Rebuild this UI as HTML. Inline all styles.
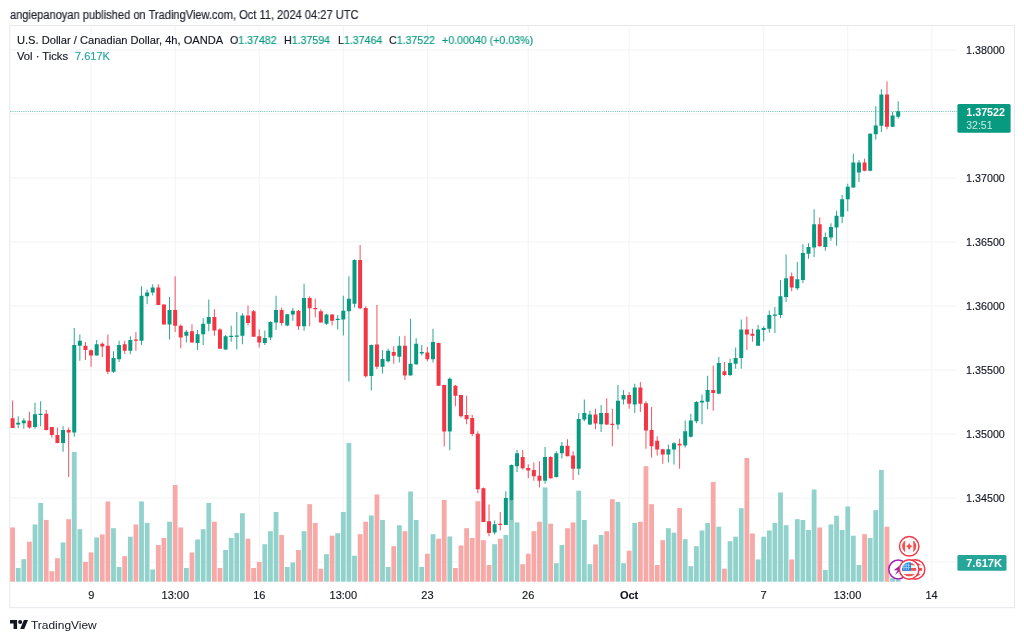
<!DOCTYPE html>
<html><head><meta charset="utf-8"><title>USDCAD chart</title>
<style>
html,body{margin:0;padding:0;background:#fff;}
body{width:1024px;height:641px;position:relative;overflow:hidden;font-family:"Liberation Sans",sans-serif;color:#131722;}
.t{position:absolute;white-space:nowrap;line-height:1;will-change:transform;}
#hdr{left:9.6px;top:8.5px;font-size:12px;color:#1f232e;-webkit-text-stroke:0.2px #1f232e;transform:scaleX(0.924);transform-origin:0 0;}
.lg{font-size:11px;color:#131722;-webkit-text-stroke:0.15px;}
.gr{color:#089981;}
.vt{color:#26a69a;}
svg{position:absolute;left:0;top:0;will-change:transform;}
svg text{font-family:"Liberation Sans",sans-serif;font-size:11px;fill:#131722;}
.ax{stroke:#131722;stroke-width:.15px;}
</style></head><body>
<div class="t" id="hdr">angiepanoyan published on TradingView.com, Oct 11, 2024 04:27 UTC</div>

<svg width="1024" height="641" viewBox="0 0 1024 641">

<rect x="9.8" y="25.6" width="1004.7" height="582.1" fill="none" stroke="#e6e8ee" stroke-width="1"/>
<g stroke="#f2f3f4" stroke-width="1">
<line x1="91.07" y1="26" x2="91.07" y2="582"/>
<line x1="175.15" y1="26" x2="175.15" y2="582"/>
<line x1="259.22" y1="26" x2="259.22" y2="582"/>
<line x1="343.30" y1="26" x2="343.30" y2="582"/>
<line x1="427.37" y1="26" x2="427.37" y2="582"/>
<line x1="528.26" y1="26" x2="528.26" y2="582"/>
<line x1="629.15" y1="26" x2="629.15" y2="582"/>
<line x1="763.67" y1="26" x2="763.67" y2="582"/>
<line x1="847.75" y1="26" x2="847.75" y2="582"/>
<line x1="931.82" y1="26" x2="931.82" y2="582"/>
<line x1="10" y1="50" x2="957" y2="50"/>
<line x1="10" y1="114" x2="957" y2="114"/>
<line x1="10" y1="178" x2="957" y2="178"/>
<line x1="10" y1="242" x2="957" y2="242"/>
<line x1="10" y1="306" x2="957" y2="306"/>
<line x1="10" y1="370" x2="957" y2="370"/>
<line x1="10" y1="434" x2="957" y2="434"/>
<line x1="10" y1="498" x2="957" y2="498"/>
<line x1="10" y1="562" x2="957" y2="562"/>
</g>
<g>
<rect x="10.20" y="527.45" width="4.8" height="54.25" fill="#f7a9a7"/>
<rect x="15.80" y="567.95" width="4.8" height="13.75" fill="#92d2cc"/>
<rect x="21.41" y="559.20" width="4.8" height="22.50" fill="#92d2cc"/>
<rect x="27.02" y="541.70" width="4.8" height="40.00" fill="#f7a9a7"/>
<rect x="32.62" y="524.45" width="4.8" height="57.25" fill="#92d2cc"/>
<rect x="38.23" y="502.95" width="4.8" height="78.75" fill="#92d2cc"/>
<rect x="43.83" y="519.95" width="4.8" height="61.75" fill="#f7a9a7"/>
<rect x="49.44" y="571.20" width="4.8" height="10.50" fill="#f7a9a7"/>
<rect x="55.04" y="558.20" width="4.8" height="23.50" fill="#f7a9a7"/>
<rect x="60.65" y="542.45" width="4.8" height="39.25" fill="#92d2cc"/>
<rect x="66.25" y="519.20" width="4.8" height="62.50" fill="#f7a9a7"/>
<rect x="71.85" y="451.95" width="4.8" height="129.75" fill="#92d2cc"/>
<rect x="77.46" y="529.20" width="4.8" height="52.50" fill="#92d2cc"/>
<rect x="83.06" y="561.95" width="4.8" height="19.75" fill="#f7a9a7"/>
<rect x="88.67" y="552.45" width="4.8" height="29.25" fill="#f7a9a7"/>
<rect x="94.27" y="537.45" width="4.8" height="44.25" fill="#92d2cc"/>
<rect x="99.88" y="534.45" width="4.8" height="47.25" fill="#f7a9a7"/>
<rect x="105.48" y="501.45" width="4.8" height="80.25" fill="#f7a9a7"/>
<rect x="111.09" y="528.20" width="4.8" height="53.50" fill="#92d2cc"/>
<rect x="116.69" y="566.95" width="4.8" height="14.75" fill="#92d2cc"/>
<rect x="122.30" y="556.20" width="4.8" height="25.50" fill="#f7a9a7"/>
<rect x="127.91" y="536.70" width="4.8" height="45.00" fill="#92d2cc"/>
<rect x="133.51" y="524.45" width="4.8" height="57.25" fill="#f7a9a7"/>
<rect x="139.12" y="501.45" width="4.8" height="80.25" fill="#92d2cc"/>
<rect x="144.72" y="522.95" width="4.8" height="58.75" fill="#92d2cc"/>
<rect x="150.32" y="569.45" width="4.8" height="12.25" fill="#92d2cc"/>
<rect x="155.93" y="544.95" width="4.8" height="36.75" fill="#f7a9a7"/>
<rect x="161.53" y="537.95" width="4.8" height="43.75" fill="#f7a9a7"/>
<rect x="167.14" y="521.70" width="4.8" height="60.00" fill="#92d2cc"/>
<rect x="172.75" y="484.95" width="4.8" height="96.75" fill="#f7a9a7"/>
<rect x="178.35" y="527.45" width="4.8" height="54.25" fill="#f7a9a7"/>
<rect x="183.96" y="567.95" width="4.8" height="13.75" fill="#92d2cc"/>
<rect x="189.56" y="552.45" width="4.8" height="29.25" fill="#f7a9a7"/>
<rect x="195.16" y="539.45" width="4.8" height="42.25" fill="#92d2cc"/>
<rect x="200.77" y="529.20" width="4.8" height="52.50" fill="#92d2cc"/>
<rect x="206.38" y="502.95" width="4.8" height="78.75" fill="#92d2cc"/>
<rect x="211.98" y="521.70" width="4.8" height="60.00" fill="#f7a9a7"/>
<rect x="217.59" y="567.95" width="4.8" height="13.75" fill="#f7a9a7"/>
<rect x="223.19" y="549.95" width="4.8" height="31.75" fill="#92d2cc"/>
<rect x="228.80" y="537.95" width="4.8" height="43.75" fill="#92d2cc"/>
<rect x="234.40" y="532.95" width="4.8" height="48.75" fill="#92d2cc"/>
<rect x="240.00" y="513.20" width="4.8" height="68.50" fill="#92d2cc"/>
<rect x="245.61" y="538.70" width="4.8" height="43.00" fill="#f7a9a7"/>
<rect x="251.22" y="567.95" width="4.8" height="13.75" fill="#f7a9a7"/>
<rect x="256.82" y="561.95" width="4.8" height="19.75" fill="#f7a9a7"/>
<rect x="262.43" y="544.20" width="4.8" height="37.50" fill="#92d2cc"/>
<rect x="268.03" y="531.20" width="4.8" height="50.50" fill="#92d2cc"/>
<rect x="273.64" y="511.95" width="4.8" height="69.75" fill="#92d2cc"/>
<rect x="279.24" y="534.95" width="4.8" height="46.75" fill="#f7a9a7"/>
<rect x="284.85" y="566.95" width="4.8" height="14.75" fill="#92d2cc"/>
<rect x="290.45" y="562.45" width="4.8" height="19.25" fill="#92d2cc"/>
<rect x="296.06" y="549.95" width="4.8" height="31.75" fill="#f7a9a7"/>
<rect x="301.66" y="531.20" width="4.8" height="50.50" fill="#92d2cc"/>
<rect x="307.27" y="504.20" width="4.8" height="77.50" fill="#f7a9a7"/>
<rect x="312.87" y="522.95" width="4.8" height="58.75" fill="#f7a9a7"/>
<rect x="318.48" y="568.70" width="4.8" height="13.00" fill="#f7a9a7"/>
<rect x="324.08" y="554.20" width="4.8" height="27.50" fill="#92d2cc"/>
<rect x="329.69" y="535.70" width="4.8" height="46.00" fill="#f7a9a7"/>
<rect x="335.29" y="533.20" width="4.8" height="48.50" fill="#92d2cc"/>
<rect x="340.90" y="511.95" width="4.8" height="69.75" fill="#92d2cc"/>
<rect x="346.50" y="442.95" width="4.8" height="138.75" fill="#92d2cc"/>
<rect x="352.11" y="555.70" width="4.8" height="26.00" fill="#92d2cc"/>
<rect x="357.71" y="534.20" width="4.8" height="47.50" fill="#f7a9a7"/>
<rect x="363.32" y="521.70" width="4.8" height="60.00" fill="#f7a9a7"/>
<rect x="368.92" y="515.45" width="4.8" height="66.25" fill="#92d2cc"/>
<rect x="374.53" y="494.45" width="4.8" height="87.25" fill="#f7a9a7"/>
<rect x="380.13" y="519.95" width="4.8" height="61.75" fill="#92d2cc"/>
<rect x="385.74" y="566.95" width="4.8" height="14.75" fill="#92d2cc"/>
<rect x="391.34" y="546.20" width="4.8" height="35.50" fill="#f7a9a7"/>
<rect x="396.95" y="525.20" width="4.8" height="56.50" fill="#92d2cc"/>
<rect x="402.55" y="531.20" width="4.8" height="50.50" fill="#f7a9a7"/>
<rect x="408.16" y="491.45" width="4.8" height="90.25" fill="#92d2cc"/>
<rect x="413.76" y="519.95" width="4.8" height="61.75" fill="#92d2cc"/>
<rect x="419.37" y="566.95" width="4.8" height="14.75" fill="#92d2cc"/>
<rect x="424.97" y="553.70" width="4.8" height="28.00" fill="#f7a9a7"/>
<rect x="430.58" y="534.20" width="4.8" height="47.50" fill="#92d2cc"/>
<rect x="436.18" y="538.70" width="4.8" height="43.00" fill="#f7a9a7"/>
<rect x="441.79" y="499.95" width="4.8" height="81.75" fill="#f7a9a7"/>
<rect x="447.39" y="536.45" width="4.8" height="45.25" fill="#92d2cc"/>
<rect x="453.00" y="567.95" width="4.8" height="13.75" fill="#f7a9a7"/>
<rect x="458.60" y="545.45" width="4.8" height="36.25" fill="#f7a9a7"/>
<rect x="464.21" y="528.20" width="4.8" height="53.50" fill="#f7a9a7"/>
<rect x="469.81" y="537.95" width="4.8" height="43.75" fill="#f7a9a7"/>
<rect x="475.42" y="501.20" width="4.8" height="80.50" fill="#f7a9a7"/>
<rect x="481.02" y="540.20" width="4.8" height="41.50" fill="#f7a9a7"/>
<rect x="486.63" y="564.95" width="4.8" height="16.75" fill="#f7a9a7"/>
<rect x="492.23" y="544.20" width="4.8" height="37.50" fill="#92d2cc"/>
<rect x="497.84" y="538.70" width="4.8" height="43.00" fill="#f7a9a7"/>
<rect x="503.44" y="534.95" width="4.8" height="46.75" fill="#92d2cc"/>
<rect x="509.05" y="499.95" width="4.8" height="81.75" fill="#92d2cc"/>
<rect x="514.65" y="522.45" width="4.8" height="59.25" fill="#92d2cc"/>
<rect x="520.26" y="564.20" width="4.8" height="17.50" fill="#f7a9a7"/>
<rect x="525.86" y="553.70" width="4.8" height="28.00" fill="#f7a9a7"/>
<rect x="531.47" y="531.20" width="4.8" height="50.50" fill="#f7a9a7"/>
<rect x="537.07" y="521.70" width="4.8" height="60.00" fill="#f7a9a7"/>
<rect x="542.68" y="487.45" width="4.8" height="94.25" fill="#92d2cc"/>
<rect x="548.28" y="523.70" width="4.8" height="58.00" fill="#f7a9a7"/>
<rect x="553.89" y="563.20" width="4.8" height="18.50" fill="#92d2cc"/>
<rect x="559.49" y="544.95" width="4.8" height="36.75" fill="#92d2cc"/>
<rect x="565.10" y="528.20" width="4.8" height="53.50" fill="#f7a9a7"/>
<rect x="570.70" y="522.45" width="4.8" height="59.25" fill="#f7a9a7"/>
<rect x="576.31" y="490.70" width="4.8" height="91.00" fill="#92d2cc"/>
<rect x="581.91" y="519.95" width="4.8" height="61.75" fill="#92d2cc"/>
<rect x="587.52" y="564.20" width="4.8" height="17.50" fill="#92d2cc"/>
<rect x="593.12" y="544.45" width="4.8" height="37.25" fill="#f7a9a7"/>
<rect x="598.73" y="534.95" width="4.8" height="46.75" fill="#92d2cc"/>
<rect x="604.33" y="531.20" width="4.8" height="50.50" fill="#f7a9a7"/>
<rect x="609.94" y="499.20" width="4.8" height="82.50" fill="#f7a9a7"/>
<rect x="615.54" y="501.95" width="4.8" height="79.75" fill="#92d2cc"/>
<rect x="621.15" y="563.20" width="4.8" height="18.50" fill="#92d2cc"/>
<rect x="626.75" y="550.70" width="4.8" height="31.00" fill="#f7a9a7"/>
<rect x="632.36" y="522.95" width="4.8" height="58.75" fill="#92d2cc"/>
<rect x="637.96" y="521.70" width="4.8" height="60.00" fill="#f7a9a7"/>
<rect x="643.57" y="466.20" width="4.8" height="115.50" fill="#f7a9a7"/>
<rect x="649.17" y="504.20" width="4.8" height="77.50" fill="#f7a9a7"/>
<rect x="654.78" y="564.95" width="4.8" height="16.75" fill="#f7a9a7"/>
<rect x="660.38" y="540.20" width="4.8" height="41.50" fill="#f7a9a7"/>
<rect x="665.99" y="528.20" width="4.8" height="53.50" fill="#92d2cc"/>
<rect x="671.59" y="532.70" width="4.8" height="49.00" fill="#92d2cc"/>
<rect x="677.20" y="507.95" width="4.8" height="73.75" fill="#f7a9a7"/>
<rect x="682.80" y="539.20" width="4.8" height="42.50" fill="#92d2cc"/>
<rect x="688.41" y="566.20" width="4.8" height="15.50" fill="#92d2cc"/>
<rect x="694.01" y="546.20" width="4.8" height="35.50" fill="#92d2cc"/>
<rect x="699.62" y="530.45" width="4.8" height="51.25" fill="#92d2cc"/>
<rect x="705.22" y="522.95" width="4.8" height="58.75" fill="#92d2cc"/>
<rect x="710.83" y="481.95" width="4.8" height="99.75" fill="#f7a9a7"/>
<rect x="716.43" y="526.70" width="4.8" height="55.00" fill="#92d2cc"/>
<rect x="722.04" y="568.70" width="4.8" height="13.00" fill="#f7a9a7"/>
<rect x="727.64" y="541.20" width="4.8" height="40.50" fill="#92d2cc"/>
<rect x="733.25" y="536.70" width="4.8" height="45.00" fill="#92d2cc"/>
<rect x="738.85" y="508.20" width="4.8" height="73.50" fill="#92d2cc"/>
<rect x="744.46" y="457.95" width="4.8" height="123.75" fill="#f7a9a7"/>
<rect x="750.06" y="533.45" width="4.8" height="48.25" fill="#f7a9a7"/>
<rect x="755.67" y="559.45" width="4.8" height="22.25" fill="#92d2cc"/>
<rect x="761.27" y="536.70" width="4.8" height="45.00" fill="#92d2cc"/>
<rect x="766.88" y="530.45" width="4.8" height="51.25" fill="#92d2cc"/>
<rect x="772.48" y="522.95" width="4.8" height="58.75" fill="#92d2cc"/>
<rect x="778.09" y="492.45" width="4.8" height="89.25" fill="#92d2cc"/>
<rect x="783.69" y="525.20" width="4.8" height="56.50" fill="#92d2cc"/>
<rect x="789.30" y="559.45" width="4.8" height="22.25" fill="#f7a9a7"/>
<rect x="794.90" y="519.20" width="4.8" height="62.50" fill="#92d2cc"/>
<rect x="800.51" y="519.95" width="4.8" height="61.75" fill="#92d2cc"/>
<rect x="806.11" y="529.95" width="4.8" height="51.75" fill="#92d2cc"/>
<rect x="811.72" y="489.45" width="4.8" height="92.25" fill="#92d2cc"/>
<rect x="817.32" y="527.45" width="4.8" height="54.25" fill="#f7a9a7"/>
<rect x="822.93" y="569.95" width="4.8" height="11.75" fill="#92d2cc"/>
<rect x="828.53" y="524.45" width="4.8" height="57.25" fill="#92d2cc"/>
<rect x="834.14" y="515.70" width="4.8" height="66.00" fill="#92d2cc"/>
<rect x="839.74" y="529.95" width="4.8" height="51.75" fill="#92d2cc"/>
<rect x="845.35" y="506.45" width="4.8" height="75.25" fill="#92d2cc"/>
<rect x="850.95" y="535.70" width="4.8" height="46.00" fill="#92d2cc"/>
<rect x="856.56" y="564.95" width="4.8" height="16.75" fill="#92d2cc"/>
<rect x="862.16" y="534.20" width="4.8" height="47.50" fill="#f7a9a7"/>
<rect x="867.77" y="537.95" width="4.8" height="43.75" fill="#92d2cc"/>
<rect x="873.37" y="510.20" width="4.8" height="71.50" fill="#92d2cc"/>
<rect x="878.98" y="469.95" width="4.8" height="111.75" fill="#92d2cc"/>
<rect x="884.58" y="526.70" width="4.8" height="55.00" fill="#f7a9a7"/>
<rect x="890.19" y="578.20" width="4.8" height="3.50" fill="#92d2cc"/>
<rect x="895.79" y="579.45" width="4.8" height="2.25" fill="#92d2cc"/>
</g>
<g>
<rect x="12.10" y="400.50" width="1" height="27.50" fill="#f23645" opacity="0.85"/>
<rect x="10.60" y="418.25" width="4.0" height="9.75" fill="#f23645"/>
<rect x="17.70" y="416.25" width="1" height="11.75" fill="#089981" opacity="0.85"/>
<rect x="16.20" y="422.75" width="4.0" height="1.75" fill="#089981"/>
<rect x="23.31" y="418.25" width="1" height="10.50" fill="#089981" opacity="0.85"/>
<rect x="21.81" y="420.50" width="4.0" height="2.75" fill="#089981"/>
<rect x="28.91" y="411.75" width="1" height="17.00" fill="#f23645" opacity="0.85"/>
<rect x="27.41" y="420.75" width="4.0" height="6.75" fill="#f23645"/>
<rect x="34.52" y="402.50" width="1" height="26.25" fill="#089981" opacity="0.85"/>
<rect x="33.02" y="414.25" width="4.0" height="12.75" fill="#089981"/>
<rect x="40.12" y="401.25" width="1" height="25.00" fill="#089981" opacity="0.85"/>
<rect x="38.62" y="413.75" width="4.0" height="1.25" fill="#089981"/>
<rect x="45.73" y="410.00" width="1" height="20.50" fill="#f23645" opacity="0.85"/>
<rect x="44.23" y="413.75" width="4.0" height="16.25" fill="#f23645"/>
<rect x="51.34" y="427.00" width="1" height="10.50" fill="#f23645" opacity="0.85"/>
<rect x="49.84" y="427.00" width="4.0" height="8.00" fill="#f23645"/>
<rect x="56.94" y="427.50" width="1" height="15.75" fill="#f23645" opacity="0.85"/>
<rect x="55.44" y="435.00" width="4.0" height="8.00" fill="#f23645"/>
<rect x="62.55" y="426.25" width="1" height="25.50" fill="#089981" opacity="0.85"/>
<rect x="61.05" y="430.00" width="4.0" height="13.00" fill="#089981"/>
<rect x="68.15" y="427.50" width="1" height="49.50" fill="#f23645" opacity="0.85"/>
<rect x="66.65" y="430.00" width="4.0" height="2.50" fill="#f23645"/>
<rect x="73.75" y="328.00" width="1" height="108.75" fill="#089981" opacity="0.85"/>
<rect x="72.25" y="345.00" width="4.0" height="87.50" fill="#089981"/>
<rect x="79.36" y="334.50" width="1" height="26.25" fill="#089981" opacity="0.85"/>
<rect x="77.86" y="340.75" width="4.0" height="5.00" fill="#089981"/>
<rect x="84.97" y="342.00" width="1" height="18.00" fill="#f23645" opacity="0.85"/>
<rect x="83.47" y="345.75" width="4.0" height="4.25" fill="#f23645"/>
<rect x="90.57" y="349.50" width="1" height="17.25" fill="#f23645" opacity="0.85"/>
<rect x="89.07" y="350.25" width="4.0" height="5.25" fill="#f23645"/>
<rect x="96.17" y="340.00" width="1" height="15.50" fill="#089981" opacity="0.85"/>
<rect x="94.67" y="344.25" width="4.0" height="11.25" fill="#089981"/>
<rect x="101.78" y="342.50" width="1" height="14.50" fill="#f23645" opacity="0.85"/>
<rect x="100.28" y="343.75" width="4.0" height="2.75" fill="#f23645"/>
<rect x="107.39" y="334.50" width="1" height="39.75" fill="#f23645" opacity="0.85"/>
<rect x="105.89" y="345.75" width="4.0" height="26.00" fill="#f23645"/>
<rect x="112.99" y="351.25" width="1" height="21.50" fill="#089981" opacity="0.85"/>
<rect x="111.49" y="358.00" width="4.0" height="13.75" fill="#089981"/>
<rect x="118.59" y="340.75" width="1" height="21.25" fill="#089981" opacity="0.85"/>
<rect x="117.09" y="345.00" width="4.0" height="14.25" fill="#089981"/>
<rect x="124.20" y="340.75" width="1" height="13.00" fill="#f23645" opacity="0.85"/>
<rect x="122.70" y="344.25" width="4.0" height="6.50" fill="#f23645"/>
<rect x="129.81" y="336.25" width="1" height="18.00" fill="#089981" opacity="0.85"/>
<rect x="128.31" y="340.00" width="4.0" height="10.75" fill="#089981"/>
<rect x="135.41" y="332.00" width="1" height="18.75" fill="#f23645" opacity="0.85"/>
<rect x="133.91" y="339.50" width="4.0" height="1.25" fill="#f23645"/>
<rect x="141.02" y="286.25" width="1" height="58.75" fill="#089981" opacity="0.85"/>
<rect x="139.52" y="295.75" width="4.0" height="45.00" fill="#089981"/>
<rect x="146.62" y="289.50" width="1" height="14.75" fill="#089981" opacity="0.85"/>
<rect x="145.12" y="292.50" width="4.0" height="3.75" fill="#089981"/>
<rect x="152.22" y="284.25" width="1" height="11.25" fill="#089981" opacity="0.85"/>
<rect x="150.72" y="287.50" width="4.0" height="5.00" fill="#089981"/>
<rect x="157.83" y="284.25" width="1" height="20.75" fill="#f23645" opacity="0.85"/>
<rect x="156.33" y="287.50" width="4.0" height="17.50" fill="#f23645"/>
<rect x="163.44" y="304.50" width="1" height="20.00" fill="#f23645" opacity="0.85"/>
<rect x="161.94" y="304.50" width="4.0" height="20.00" fill="#f23645"/>
<rect x="169.04" y="297.00" width="1" height="42.50" fill="#089981" opacity="0.85"/>
<rect x="167.54" y="310.00" width="4.0" height="14.50" fill="#089981"/>
<rect x="174.65" y="276.25" width="1" height="55.75" fill="#f23645" opacity="0.85"/>
<rect x="173.15" y="310.00" width="4.0" height="15.75" fill="#f23645"/>
<rect x="180.25" y="324.50" width="1" height="23.75" fill="#f23645" opacity="0.85"/>
<rect x="178.75" y="325.75" width="4.0" height="11.75" fill="#f23645"/>
<rect x="185.86" y="330.00" width="1" height="12.50" fill="#089981" opacity="0.85"/>
<rect x="184.36" y="331.75" width="4.0" height="4.00" fill="#089981"/>
<rect x="191.46" y="324.25" width="1" height="18.25" fill="#f23645" opacity="0.85"/>
<rect x="189.96" y="331.25" width="4.0" height="11.25" fill="#f23645"/>
<rect x="197.06" y="330.00" width="1" height="20.00" fill="#089981" opacity="0.85"/>
<rect x="195.56" y="334.25" width="4.0" height="8.75" fill="#089981"/>
<rect x="202.67" y="318.25" width="1" height="26.75" fill="#089981" opacity="0.85"/>
<rect x="201.17" y="323.75" width="4.0" height="10.50" fill="#089981"/>
<rect x="208.28" y="299.50" width="1" height="31.75" fill="#089981" opacity="0.85"/>
<rect x="206.78" y="317.00" width="4.0" height="6.75" fill="#089981"/>
<rect x="213.88" y="309.25" width="1" height="26.50" fill="#f23645" opacity="0.85"/>
<rect x="212.38" y="317.00" width="4.0" height="13.50" fill="#f23645"/>
<rect x="219.49" y="328.25" width="1" height="20.50" fill="#f23645" opacity="0.85"/>
<rect x="217.99" y="329.50" width="4.0" height="19.25" fill="#f23645"/>
<rect x="225.09" y="335.00" width="1" height="15.00" fill="#089981" opacity="0.85"/>
<rect x="223.59" y="336.25" width="4.0" height="13.25" fill="#089981"/>
<rect x="230.70" y="325.75" width="1" height="16.00" fill="#089981" opacity="0.85"/>
<rect x="229.20" y="335.75" width="4.0" height="1.25" fill="#089981"/>
<rect x="236.30" y="312.00" width="1" height="37.50" fill="#089981" opacity="0.85"/>
<rect x="234.80" y="335.50" width="4.0" height="1.25" fill="#089981"/>
<rect x="241.91" y="313.25" width="1" height="31.00" fill="#089981" opacity="0.85"/>
<rect x="240.41" y="315.50" width="4.0" height="20.25" fill="#089981"/>
<rect x="247.51" y="305.50" width="1" height="20.00" fill="#f23645" opacity="0.85"/>
<rect x="246.01" y="315.50" width="4.0" height="7.50" fill="#f23645"/>
<rect x="253.12" y="310.00" width="1" height="26.75" fill="#f23645" opacity="0.85"/>
<rect x="251.62" y="311.25" width="4.0" height="25.50" fill="#f23645"/>
<rect x="258.72" y="329.25" width="1" height="18.25" fill="#f23645" opacity="0.85"/>
<rect x="257.22" y="336.25" width="4.0" height="6.25" fill="#f23645"/>
<rect x="264.33" y="330.50" width="1" height="14.50" fill="#089981" opacity="0.85"/>
<rect x="262.83" y="338.00" width="4.0" height="5.00" fill="#089981"/>
<rect x="269.93" y="321.25" width="1" height="18.75" fill="#089981" opacity="0.85"/>
<rect x="268.43" y="322.00" width="4.0" height="15.50" fill="#089981"/>
<rect x="275.54" y="295.75" width="1" height="34.25" fill="#089981" opacity="0.85"/>
<rect x="274.04" y="310.00" width="4.0" height="12.50" fill="#089981"/>
<rect x="281.14" y="307.50" width="1" height="18.00" fill="#f23645" opacity="0.85"/>
<rect x="279.64" y="310.00" width="4.0" height="13.00" fill="#f23645"/>
<rect x="286.75" y="313.75" width="1" height="12.50" fill="#089981" opacity="0.85"/>
<rect x="285.25" y="314.25" width="4.0" height="11.25" fill="#089981"/>
<rect x="292.35" y="308.00" width="1" height="12.75" fill="#089981" opacity="0.85"/>
<rect x="290.85" y="310.75" width="4.0" height="3.75" fill="#089981"/>
<rect x="297.96" y="310.00" width="1" height="20.00" fill="#f23645" opacity="0.85"/>
<rect x="296.46" y="310.75" width="4.0" height="15.50" fill="#f23645"/>
<rect x="303.56" y="283.75" width="1" height="47.00" fill="#089981" opacity="0.85"/>
<rect x="302.06" y="298.00" width="4.0" height="28.25" fill="#089981"/>
<rect x="309.17" y="296.25" width="1" height="30.00" fill="#f23645" opacity="0.85"/>
<rect x="307.67" y="298.00" width="4.0" height="10.25" fill="#f23645"/>
<rect x="314.77" y="298.75" width="1" height="18.75" fill="#f23645" opacity="0.85"/>
<rect x="313.27" y="308.00" width="4.0" height="1.20" fill="#f23645"/>
<rect x="320.38" y="309.25" width="1" height="13.25" fill="#f23645" opacity="0.85"/>
<rect x="318.88" y="311.25" width="4.0" height="11.25" fill="#f23645"/>
<rect x="325.98" y="313.75" width="1" height="11.25" fill="#089981" opacity="0.85"/>
<rect x="324.48" y="314.50" width="4.0" height="9.25" fill="#089981"/>
<rect x="331.59" y="314.25" width="1" height="11.25" fill="#f23645" opacity="0.85"/>
<rect x="330.09" y="314.50" width="4.0" height="6.25" fill="#f23645"/>
<rect x="337.19" y="315.00" width="1" height="14.50" fill="#089981" opacity="0.85"/>
<rect x="335.69" y="318.75" width="4.0" height="1.25" fill="#089981"/>
<rect x="342.80" y="295.75" width="1" height="39.75" fill="#089981" opacity="0.85"/>
<rect x="341.30" y="310.75" width="4.0" height="8.75" fill="#089981"/>
<rect x="348.40" y="276.25" width="1" height="105.25" fill="#089981" opacity="0.85"/>
<rect x="346.90" y="298.75" width="4.0" height="12.50" fill="#089981"/>
<rect x="354.01" y="259.25" width="1" height="48.25" fill="#089981" opacity="0.85"/>
<rect x="352.51" y="260.00" width="4.0" height="43.75" fill="#089981"/>
<rect x="359.61" y="245.00" width="1" height="64.25" fill="#f23645" opacity="0.85"/>
<rect x="358.11" y="260.00" width="4.0" height="48.25" fill="#f23645"/>
<rect x="365.22" y="306.25" width="1" height="71.25" fill="#f23645" opacity="0.85"/>
<rect x="363.72" y="308.00" width="4.0" height="68.25" fill="#f23645"/>
<rect x="370.82" y="344.50" width="1" height="46.00" fill="#089981" opacity="0.85"/>
<rect x="369.32" y="345.00" width="4.0" height="31.00" fill="#089981"/>
<rect x="376.43" y="305.00" width="1" height="64.00" fill="#f23645" opacity="0.85"/>
<rect x="374.93" y="344.50" width="4.0" height="22.25" fill="#f23645"/>
<rect x="382.03" y="350.00" width="1" height="23.50" fill="#089981" opacity="0.85"/>
<rect x="380.53" y="359.00" width="4.0" height="7.75" fill="#089981"/>
<rect x="387.64" y="348.75" width="1" height="13.75" fill="#089981" opacity="0.85"/>
<rect x="386.14" y="350.75" width="4.0" height="10.50" fill="#089981"/>
<rect x="393.24" y="346.25" width="1" height="17.50" fill="#f23645" opacity="0.85"/>
<rect x="391.74" y="352.00" width="4.0" height="3.75" fill="#f23645"/>
<rect x="398.85" y="336.25" width="1" height="26.25" fill="#089981" opacity="0.85"/>
<rect x="397.35" y="345.75" width="4.0" height="11.00" fill="#089981"/>
<rect x="404.45" y="335.75" width="1" height="44.25" fill="#f23645" opacity="0.85"/>
<rect x="402.95" y="345.75" width="4.0" height="29.75" fill="#f23645"/>
<rect x="410.06" y="318.75" width="1" height="56.75" fill="#089981" opacity="0.85"/>
<rect x="408.56" y="363.75" width="4.0" height="11.75" fill="#089981"/>
<rect x="415.66" y="338.25" width="1" height="26.75" fill="#089981" opacity="0.85"/>
<rect x="414.16" y="343.75" width="4.0" height="20.50" fill="#089981"/>
<rect x="421.27" y="345.00" width="1" height="10.50" fill="#089981" opacity="0.85"/>
<rect x="419.77" y="352.00" width="4.0" height="1.50" fill="#089981"/>
<rect x="426.87" y="347.00" width="1" height="14.25" fill="#f23645" opacity="0.85"/>
<rect x="425.37" y="352.50" width="4.0" height="6.75" fill="#f23645"/>
<rect x="432.48" y="328.75" width="1" height="33.75" fill="#089981" opacity="0.85"/>
<rect x="430.98" y="342.00" width="4.0" height="17.25" fill="#089981"/>
<rect x="438.08" y="342.50" width="1" height="43.25" fill="#f23645" opacity="0.85"/>
<rect x="436.58" y="343.00" width="4.0" height="42.75" fill="#f23645"/>
<rect x="443.69" y="385.00" width="1" height="61.50" fill="#f23645" opacity="0.85"/>
<rect x="442.19" y="385.00" width="4.0" height="46.50" fill="#f23645"/>
<rect x="449.29" y="377.50" width="1" height="72.75" fill="#089981" opacity="0.85"/>
<rect x="447.79" y="378.75" width="4.0" height="52.75" fill="#089981"/>
<rect x="454.90" y="385.00" width="1" height="21.25" fill="#f23645" opacity="0.85"/>
<rect x="453.40" y="385.75" width="4.0" height="10.00" fill="#f23645"/>
<rect x="460.50" y="395.00" width="1" height="22.50" fill="#f23645" opacity="0.85"/>
<rect x="459.00" y="395.00" width="4.0" height="21.25" fill="#f23645"/>
<rect x="466.11" y="395.75" width="1" height="28.50" fill="#f23645" opacity="0.85"/>
<rect x="464.61" y="415.00" width="4.0" height="4.25" fill="#f23645"/>
<rect x="471.71" y="414.75" width="1" height="21.50" fill="#f23645" opacity="0.85"/>
<rect x="470.21" y="418.00" width="4.0" height="16.00" fill="#f23645"/>
<rect x="477.32" y="431.25" width="1" height="62.00" fill="#f23645" opacity="0.85"/>
<rect x="475.82" y="433.75" width="4.0" height="55.50" fill="#f23645"/>
<rect x="482.92" y="487.50" width="1" height="34.50" fill="#f23645" opacity="0.85"/>
<rect x="481.42" y="488.25" width="4.0" height="33.75" fill="#f23645"/>
<rect x="488.53" y="504.50" width="1" height="31.75" fill="#f23645" opacity="0.85"/>
<rect x="487.03" y="521.25" width="4.0" height="11.75" fill="#f23645"/>
<rect x="494.13" y="520.50" width="1" height="14.00" fill="#089981" opacity="0.85"/>
<rect x="492.63" y="524.25" width="4.0" height="8.25" fill="#089981"/>
<rect x="499.74" y="512.00" width="1" height="18.50" fill="#f23645" opacity="0.85"/>
<rect x="498.24" y="523.75" width="4.0" height="1.25" fill="#f23645"/>
<rect x="505.34" y="491.25" width="1" height="33.75" fill="#089981" opacity="0.85"/>
<rect x="503.84" y="498.00" width="4.0" height="27.00" fill="#089981"/>
<rect x="510.95" y="464.50" width="1" height="36.00" fill="#089981" opacity="0.85"/>
<rect x="509.45" y="465.00" width="4.0" height="35.00" fill="#089981"/>
<rect x="516.55" y="450.00" width="1" height="22.00" fill="#089981" opacity="0.85"/>
<rect x="515.05" y="453.25" width="4.0" height="13.00" fill="#089981"/>
<rect x="522.16" y="450.00" width="1" height="19.50" fill="#f23645" opacity="0.85"/>
<rect x="520.66" y="457.00" width="4.0" height="11.25" fill="#f23645"/>
<rect x="527.76" y="464.25" width="1" height="14.00" fill="#f23645" opacity="0.85"/>
<rect x="526.26" y="468.00" width="4.0" height="2.50" fill="#f23645"/>
<rect x="533.37" y="462.50" width="1" height="18.25" fill="#f23645" opacity="0.85"/>
<rect x="531.87" y="470.00" width="4.0" height="6.25" fill="#f23645"/>
<rect x="538.97" y="461.25" width="1" height="26.25" fill="#f23645" opacity="0.85"/>
<rect x="537.47" y="475.75" width="4.0" height="5.00" fill="#f23645"/>
<rect x="544.58" y="447.00" width="1" height="36.75" fill="#089981" opacity="0.85"/>
<rect x="543.08" y="457.00" width="4.0" height="23.75" fill="#089981"/>
<rect x="550.18" y="456.25" width="1" height="22.50" fill="#f23645" opacity="0.85"/>
<rect x="548.68" y="457.00" width="4.0" height="21.25" fill="#f23645"/>
<rect x="555.79" y="451.25" width="1" height="26.25" fill="#089981" opacity="0.85"/>
<rect x="554.29" y="453.25" width="4.0" height="23.75" fill="#089981"/>
<rect x="561.39" y="442.00" width="1" height="16.50" fill="#089981" opacity="0.85"/>
<rect x="559.89" y="445.75" width="4.0" height="7.50" fill="#089981"/>
<rect x="567.00" y="439.25" width="1" height="17.00" fill="#f23645" opacity="0.85"/>
<rect x="565.50" y="445.75" width="4.0" height="10.50" fill="#f23645"/>
<rect x="572.60" y="451.25" width="1" height="28.75" fill="#f23645" opacity="0.85"/>
<rect x="571.10" y="455.50" width="4.0" height="13.25" fill="#f23645"/>
<rect x="578.21" y="413.00" width="1" height="62.00" fill="#089981" opacity="0.85"/>
<rect x="576.71" y="419.00" width="4.0" height="49.75" fill="#089981"/>
<rect x="583.81" y="399.50" width="1" height="21.75" fill="#089981" opacity="0.85"/>
<rect x="582.31" y="413.00" width="4.0" height="6.50" fill="#089981"/>
<rect x="589.42" y="410.75" width="1" height="14.25" fill="#089981" opacity="0.85"/>
<rect x="587.92" y="414.50" width="4.0" height="10.00" fill="#089981"/>
<rect x="595.02" y="408.75" width="1" height="20.50" fill="#f23645" opacity="0.85"/>
<rect x="593.52" y="414.50" width="4.0" height="9.00" fill="#f23645"/>
<rect x="600.63" y="405.00" width="1" height="27.00" fill="#089981" opacity="0.85"/>
<rect x="599.13" y="413.00" width="4.0" height="11.25" fill="#089981"/>
<rect x="606.23" y="398.25" width="1" height="26.75" fill="#f23645" opacity="0.85"/>
<rect x="604.73" y="413.00" width="4.0" height="11.50" fill="#f23645"/>
<rect x="611.84" y="408.75" width="1" height="37.50" fill="#f23645" opacity="0.85"/>
<rect x="610.34" y="423.75" width="4.0" height="1.25" fill="#f23645"/>
<rect x="617.44" y="385.00" width="1" height="44.50" fill="#089981" opacity="0.85"/>
<rect x="615.94" y="400.75" width="4.0" height="23.75" fill="#089981"/>
<rect x="623.05" y="390.00" width="1" height="14.50" fill="#089981" opacity="0.85"/>
<rect x="621.55" y="395.00" width="4.0" height="4.50" fill="#089981"/>
<rect x="628.65" y="392.00" width="1" height="16.75" fill="#f23645" opacity="0.85"/>
<rect x="627.15" y="395.00" width="4.0" height="8.75" fill="#f23645"/>
<rect x="634.26" y="383.75" width="1" height="29.25" fill="#089981" opacity="0.85"/>
<rect x="632.76" y="387.50" width="4.0" height="17.00" fill="#089981"/>
<rect x="639.86" y="382.00" width="1" height="30.00" fill="#f23645" opacity="0.85"/>
<rect x="638.36" y="387.50" width="4.0" height="16.25" fill="#f23645"/>
<rect x="645.47" y="401.25" width="1" height="47.50" fill="#f23645" opacity="0.85"/>
<rect x="643.97" y="403.25" width="4.0" height="27.25" fill="#f23645"/>
<rect x="651.07" y="407.00" width="1" height="50.50" fill="#f23645" opacity="0.85"/>
<rect x="649.57" y="430.00" width="4.0" height="16.25" fill="#f23645"/>
<rect x="656.68" y="436.25" width="1" height="19.25" fill="#f23645" opacity="0.85"/>
<rect x="655.18" y="440.75" width="4.0" height="8.75" fill="#f23645"/>
<rect x="662.28" y="448.75" width="1" height="15.00" fill="#f23645" opacity="0.85"/>
<rect x="660.78" y="449.25" width="4.0" height="5.25" fill="#f23645"/>
<rect x="667.89" y="444.50" width="1" height="18.00" fill="#089981" opacity="0.85"/>
<rect x="666.39" y="449.25" width="4.0" height="5.25" fill="#089981"/>
<rect x="673.49" y="442.00" width="1" height="22.50" fill="#089981" opacity="0.85"/>
<rect x="671.99" y="443.25" width="4.0" height="6.25" fill="#089981"/>
<rect x="679.10" y="438.75" width="1" height="30.00" fill="#f23645" opacity="0.85"/>
<rect x="677.60" y="443.75" width="4.0" height="1.75" fill="#f23645"/>
<rect x="684.70" y="420.50" width="1" height="27.00" fill="#089981" opacity="0.85"/>
<rect x="683.20" y="431.25" width="4.0" height="14.25" fill="#089981"/>
<rect x="690.31" y="413.75" width="1" height="23.75" fill="#089981" opacity="0.85"/>
<rect x="688.81" y="420.50" width="4.0" height="16.25" fill="#089981"/>
<rect x="695.91" y="401.00" width="1" height="22.25" fill="#089981" opacity="0.85"/>
<rect x="694.41" y="402.00" width="4.0" height="19.25" fill="#089981"/>
<rect x="701.52" y="394.50" width="1" height="29.75" fill="#089981" opacity="0.85"/>
<rect x="700.02" y="400.75" width="4.0" height="1.75" fill="#089981"/>
<rect x="707.12" y="375.75" width="1" height="33.50" fill="#089981" opacity="0.85"/>
<rect x="705.62" y="390.00" width="4.0" height="11.75" fill="#089981"/>
<rect x="712.73" y="365.50" width="1" height="45.25" fill="#f23645" opacity="0.85"/>
<rect x="711.23" y="390.00" width="4.0" height="3.00" fill="#f23645"/>
<rect x="718.33" y="357.00" width="1" height="36.75" fill="#089981" opacity="0.85"/>
<rect x="716.83" y="363.00" width="4.0" height="30.75" fill="#089981"/>
<rect x="723.94" y="362.00" width="1" height="14.25" fill="#f23645" opacity="0.85"/>
<rect x="722.44" y="371.25" width="4.0" height="3.75" fill="#f23645"/>
<rect x="729.54" y="358.75" width="1" height="17.50" fill="#089981" opacity="0.85"/>
<rect x="728.04" y="363.00" width="4.0" height="12.00" fill="#089981"/>
<rect x="735.15" y="347.50" width="1" height="21.25" fill="#089981" opacity="0.85"/>
<rect x="733.65" y="358.00" width="4.0" height="5.75" fill="#089981"/>
<rect x="740.75" y="319.50" width="1" height="49.25" fill="#089981" opacity="0.85"/>
<rect x="739.25" y="329.50" width="4.0" height="28.50" fill="#089981"/>
<rect x="746.36" y="316.75" width="1" height="33.25" fill="#f23645" opacity="0.85"/>
<rect x="744.86" y="329.50" width="4.0" height="5.00" fill="#f23645"/>
<rect x="751.96" y="328.75" width="1" height="13.00" fill="#f23645" opacity="0.85"/>
<rect x="750.46" y="333.75" width="4.0" height="2.00" fill="#f23645"/>
<rect x="757.57" y="325.00" width="1" height="20.75" fill="#089981" opacity="0.85"/>
<rect x="756.07" y="329.50" width="4.0" height="16.25" fill="#089981"/>
<rect x="763.17" y="326.25" width="1" height="15.00" fill="#089981" opacity="0.85"/>
<rect x="761.67" y="328.00" width="4.0" height="2.00" fill="#089981"/>
<rect x="768.78" y="310.50" width="1" height="22.00" fill="#089981" opacity="0.85"/>
<rect x="767.28" y="315.00" width="4.0" height="13.75" fill="#089981"/>
<rect x="774.38" y="307.00" width="1" height="26.00" fill="#089981" opacity="0.85"/>
<rect x="772.88" y="314.50" width="4.0" height="1.25" fill="#089981"/>
<rect x="779.99" y="280.00" width="1" height="38.00" fill="#089981" opacity="0.85"/>
<rect x="778.49" y="296.25" width="4.0" height="18.75" fill="#089981"/>
<rect x="785.59" y="254.50" width="1" height="47.50" fill="#089981" opacity="0.85"/>
<rect x="784.09" y="278.25" width="4.0" height="18.75" fill="#089981"/>
<rect x="791.20" y="272.50" width="1" height="18.75" fill="#f23645" opacity="0.85"/>
<rect x="789.70" y="276.25" width="4.0" height="11.25" fill="#f23645"/>
<rect x="796.80" y="262.00" width="1" height="28.00" fill="#089981" opacity="0.85"/>
<rect x="795.30" y="279.25" width="4.0" height="9.00" fill="#089981"/>
<rect x="802.41" y="244.25" width="1" height="38.75" fill="#089981" opacity="0.85"/>
<rect x="800.91" y="253.00" width="4.0" height="27.00" fill="#089981"/>
<rect x="808.01" y="243.25" width="1" height="15.50" fill="#089981" opacity="0.85"/>
<rect x="806.51" y="247.00" width="4.0" height="6.75" fill="#089981"/>
<rect x="813.62" y="209.25" width="1" height="47.75" fill="#089981" opacity="0.85"/>
<rect x="812.12" y="224.25" width="4.0" height="23.25" fill="#089981"/>
<rect x="819.22" y="217.50" width="1" height="29.25" fill="#f23645" opacity="0.85"/>
<rect x="817.72" y="224.25" width="4.0" height="22.00" fill="#f23645"/>
<rect x="824.83" y="232.50" width="1" height="18.25" fill="#089981" opacity="0.85"/>
<rect x="823.33" y="237.00" width="4.0" height="10.00" fill="#089981"/>
<rect x="830.43" y="223.25" width="1" height="17.50" fill="#089981" opacity="0.85"/>
<rect x="828.93" y="227.00" width="4.0" height="10.50" fill="#089981"/>
<rect x="836.04" y="210.75" width="1" height="35.00" fill="#089981" opacity="0.85"/>
<rect x="834.54" y="215.75" width="4.0" height="11.75" fill="#089981"/>
<rect x="841.64" y="195.00" width="1" height="28.25" fill="#089981" opacity="0.85"/>
<rect x="840.14" y="199.25" width="4.0" height="17.50" fill="#089981"/>
<rect x="847.25" y="183.75" width="1" height="27.50" fill="#089981" opacity="0.85"/>
<rect x="845.75" y="186.75" width="4.0" height="12.50" fill="#089981"/>
<rect x="852.85" y="153.75" width="1" height="34.25" fill="#089981" opacity="0.85"/>
<rect x="851.35" y="162.50" width="4.0" height="25.00" fill="#089981"/>
<rect x="858.46" y="160.00" width="1" height="22.00" fill="#089981" opacity="0.85"/>
<rect x="856.96" y="162.50" width="4.0" height="10.00" fill="#089981"/>
<rect x="864.06" y="158.75" width="1" height="12.50" fill="#f23645" opacity="0.85"/>
<rect x="862.56" y="162.50" width="4.0" height="8.25" fill="#f23645"/>
<rect x="869.67" y="133.25" width="1" height="38.00" fill="#089981" opacity="0.85"/>
<rect x="868.17" y="133.75" width="4.0" height="37.00" fill="#089981"/>
<rect x="875.27" y="106.25" width="1" height="33.25" fill="#089981" opacity="0.85"/>
<rect x="873.77" y="125.50" width="4.0" height="8.75" fill="#089981"/>
<rect x="880.88" y="89.25" width="1" height="42.75" fill="#089981" opacity="0.85"/>
<rect x="879.38" y="94.50" width="4.0" height="31.25" fill="#089981"/>
<rect x="886.48" y="81.25" width="1" height="48.00" fill="#f23645" opacity="0.85"/>
<rect x="884.98" y="94.50" width="4.0" height="32.25" fill="#f23645"/>
<rect x="892.09" y="111.75" width="1" height="15.25" fill="#089981" opacity="0.85"/>
<rect x="890.59" y="115.50" width="4.0" height="11.25" fill="#089981"/>
<rect x="897.69" y="101.25" width="1" height="17.50" fill="#089981" opacity="0.85"/>
<rect x="896.19" y="111.25" width="4.0" height="5.50" fill="#089981"/>
</g>
<rect x="509.95" y="500" width="3" height="20" fill="#089981" opacity="0.4"/>
<line x1="10.3" y1="111.5" x2="957" y2="111.5" stroke="#089981" stroke-width="1" stroke-dasharray="1 1.19" opacity="0.6"/>
<rect x="957.4" y="103.9" width="53.2" height="28.9" rx="1.5" fill="#089981"/>
<text x="966.3" y="115.9" style="fill:#fff;font-weight:bold" textLength="38.6" lengthAdjust="spacingAndGlyphs">1.37522</text>
<text x="966.3" y="129.1" style="fill:#fff;opacity:.8" textLength="26.2" lengthAdjust="spacingAndGlyphs">32:51</text>
<rect x="957.4" y="555" width="49.1" height="15.7" rx="1.5" fill="#26a69a"/>
<text x="966.1" y="567.1" style="fill:#fff;font-weight:bold" textLength="36.1" lengthAdjust="spacingAndGlyphs">7.617K</text>
<text class="ax" x="966.1" y="54.1" textLength="38.7" lengthAdjust="spacingAndGlyphs">1.38000</text>
<text class="ax" x="966.1" y="182.1" textLength="38.7" lengthAdjust="spacingAndGlyphs">1.37000</text>
<text class="ax" x="966.1" y="246.1" textLength="38.7" lengthAdjust="spacingAndGlyphs">1.36500</text>
<text class="ax" x="966.1" y="310.1" textLength="38.7" lengthAdjust="spacingAndGlyphs">1.36000</text>
<text class="ax" x="966.1" y="374.1" textLength="38.7" lengthAdjust="spacingAndGlyphs">1.35500</text>
<text class="ax" x="966.1" y="438.1" textLength="38.7" lengthAdjust="spacingAndGlyphs">1.35000</text>
<text class="ax" x="966.1" y="502.1" textLength="38.7" lengthAdjust="spacingAndGlyphs">1.34500</text>
<text class="ax" x="91.25" y="599.2" text-anchor="middle">9</text>
<text class="ax" x="175.3" y="599.2" text-anchor="middle">13:00</text>
<text class="ax" x="259.3" y="599.2" text-anchor="middle">16</text>
<text class="ax" x="343.3" y="599.2" text-anchor="middle">13:00</text>
<text class="ax" x="427.4" y="599.2" text-anchor="middle">23</text>
<text class="ax" x="528.2" y="599.2" text-anchor="middle">26</text>
<text class="ax" x="629.1" y="599.2" text-anchor="middle" style="font-weight:bold">Oct</text>
<text class="ax" x="763.5" y="599.2" text-anchor="middle">7</text>
<text class="ax" x="847.5" y="599.2" text-anchor="middle">13:00</text>
<text class="ax" x="931.6" y="599.2" text-anchor="middle">14</text>
<defs><clipPath id="fc"><circle r="7.1"/></clipPath></defs>
<g transform="translate(898.2,569.5)">
<circle r="9.4" fill="#fff" stroke="#9c27b0" stroke-width="1.5"/>
<path d="M3.5 -5.5 L-4.5 0.8 L-0.6 0.8 L-3.2 5.6 L4.5 -1 L0.6 -1 Z" fill="#9c27b0"/>
</g>
<g transform="translate(915.1,569.4)">
<circle r="9.75" fill="#fff" stroke="#f23645" stroke-width="1.45"/>
<g clip-path="url(#fc)"><rect x="-8" y="-8" width="16" height="16" fill="#f5f5f7"/>
<rect x="-8" y="-6.2" width="16" height="2" fill="#ef5350"/><rect x="-8" y="-1.4" width="16" height="2.8" fill="#ef5350"/><rect x="-8" y="4.7" width="16" height="2.5" fill="#ef5350"/></g>
</g>
<g transform="translate(909.2,569.4)">
<circle r="9.75" fill="#fff" stroke="#f23645" stroke-width="1.45"/>
<g clip-path="url(#fc)"><rect x="-8" y="-8" width="16" height="16" fill="#f5f5f7"/>
<rect x="-8" y="-6.2" width="16" height="2" fill="#ef5350"/><rect x="-8" y="-1.4" width="16" height="2.8" fill="#ef5350"/><rect x="-8" y="4.7" width="16" height="2.5" fill="#ef5350"/>
<rect x="-8" y="-8" width="9.8" height="9.4" fill="#1e88e5"/>
<g fill="#bbdefb"><rect x="-5.6" y="-6" width="0.7" height="6.6"/><rect x="-3.4" y="-6" width="0.7" height="6.6"/><rect x="-1.2" y="-6" width="0.7" height="6.6"/><rect x="-7" y="-4.6" width="8" height="0.6"/><rect x="-7" y="-2.4" width="8" height="0.6"/></g>
</g></g>
<g transform="translate(909.2,546.3)">
<circle r="9.75" fill="#fff" stroke="#f23645" stroke-width="1.45"/>
<g clip-path="url(#fc)"><rect x="-8" y="-8" width="16" height="16" fill="#f5f5f7"/>
<rect x="-8" y="-8" width="3.9" height="16" fill="#ef5350"/><rect x="4.1" y="-8" width="3.9" height="16" fill="#ef5350"/>
<path d="M0 -3.4 L1.1 -1.3 L3 -0.3 L1.4 1.3 L0.5 3.2 L-0.5 3.2 L-1.4 1.3 L-3 -0.3 L-1.1 -1.3 Z" fill="#ef5350"/></g>
</g>
</svg>
<div class="t lg" id="l1" style="left:16.8px;top:35.3px;transform:scaleX(1.0098);transform-origin:0 0;">U.S. Dollar / Canadian Dollar, 4h, OANDA</div>
<div class="t lg" id="lo" style="left:230px;top:35.3px;transform:scaleX(0.965);transform-origin:0 0;">O<span class="gr">1.37482</span></div>
<div class="t lg" id="lh" style="left:284px;top:35.3px;transform:scaleX(0.965);transform-origin:0 0;">H<span class="gr">1.37594</span></div>
<div class="t lg" id="ll" style="left:338px;top:35.3px;transform:scaleX(0.965);transform-origin:0 0;">L<span class="gr">1.37464</span></div>
<div class="t lg" id="lc" style="left:389px;top:35.3px;transform:scaleX(0.965);transform-origin:0 0;">C<span class="gr">1.37522</span></div>
<div class="t lg gr" id="lch" style="left:442px;top:35.3px;transform:scaleX(0.968);transform-origin:0 0;">+0.00040 (+0.03%)</div>
<div class="t lg" id="l2" style="left:16.8px;top:50.9px;transform:scaleX(1.018);transform-origin:0 0;">Vol · Ticks</div>
<div class="t lg vt" id="l2v" style="left:75.2px;top:50.9px;">7.617K</div>
<div class="t" id="tv" style="left:31px;top:619.2px;font-size:11.6px;color:#131722;transform:scaleX(1.03);transform-origin:0 0;">TradingView</div>
<svg width="18" height="9.13" viewBox="0 0 35.5 18" style="left:9.86px;top:620px;"><path d="M14 18H7V7H0V0h14z" fill="#131722"/><circle cx="20" cy="4" r="4" fill="#131722"/><path d="M28 18h-8l7.5-18h8z" fill="#131722"/></svg>

</body></html>
